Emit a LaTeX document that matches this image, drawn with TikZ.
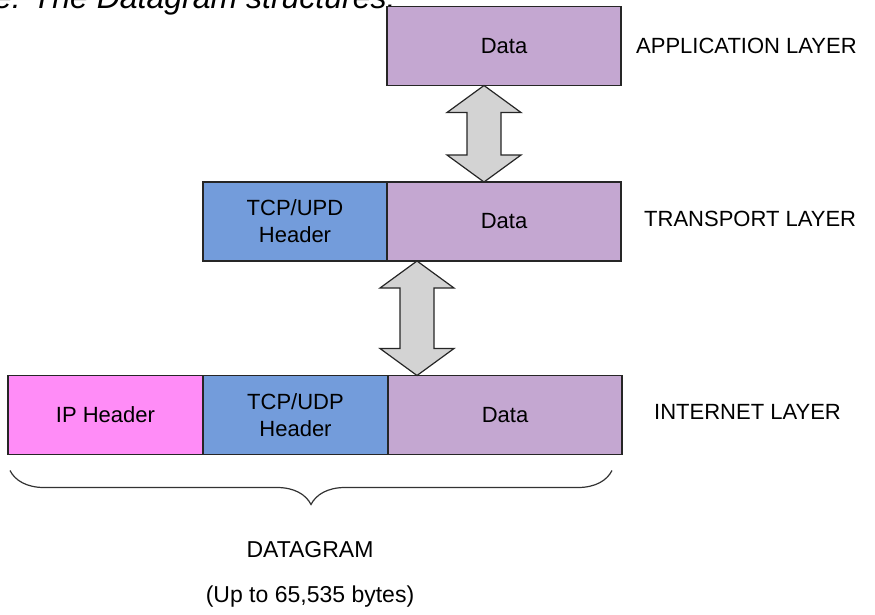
\documentclass[tikz,border=0pt]{standalone}
\usepackage{fontspec}
\setmainfont{Liberation Sans}
\usetikzlibrary{positioning,calc,decorations.pathreplacing}

\definecolor{datapurple}{HTML}{C4A7D1}
\definecolor{headblue}{HTML}{739CDB}
\definecolor{ippink}{HTML}{FF8CF7}
\definecolor{arrowgray}{HTML}{D3D3D3}

\tikzset{
  cell/.style={draw=black!85, line width=1.3pt, inner sep=0pt, outer sep=0pt,
               minimum height=79pt, align=center,
               font=\fontsize{22}{27}\selectfont},
  layername/.style={anchor=west, inner sep=0pt, font=\fontsize{22}{27}\selectfont},
  bigarrow/.style={draw=black!85, fill=arrowgray, line width=1.2pt, line join=miter}
}

% two headed block arrow between two points on one vertical line
\newcommand{\updown}[2]{%
  \draw[bigarrow] let \p1=(#1), \p2=(#2) in
    (\x1,\y1) -- (\x1+37pt,\y1-27pt) -- (\x1+17pt,\y1-27pt) --
    (\x1+17pt,\y2+27pt) -- (\x1+37pt,\y2+27pt) -- (\x1,\y2) --
    (\x1-37pt,\y2+27pt) -- (\x1-17pt,\y2+27pt) --
    (\x1-17pt,\y1-27pt) -- (\x1-37pt,\y1-27pt) -- cycle;}

\begin{document}
\begin{tikzpicture}[x=1pt,y=-1pt]
  \useasboundingbox (0,0) rectangle (875,614);

  % Caption (cut off at the top)
  \node[anchor=base west, inner sep=0pt, font=\fontsize{32}{40}\selectfont\itshape]
    (cap) at (-6,8) {e: The Datagram structures.};

  % Application layer
  \node[cell, fill=datapurple, minimum width=234pt] (appdata) at (504,46) {Data};

  % Transport layer
  \node[cell, fill=headblue, minimum width=184pt] (tphead) at (295,221.5) {TCP/UPD\\Header};
  \node[cell, fill=datapurple, minimum width=234pt, right=0pt of tphead] (tpdata) {Data};

  % Internet layer
  \node[cell, fill=ippink, minimum width=195pt] (iphead) at (105.5,415) {IP Header};
  \node[cell, fill=headblue, minimum width=185pt, right=0pt of iphead] (ithead) {TCP/UDP\\Header};
  \node[cell, fill=datapurple, minimum width=234pt, right=0pt of ithead] (itdata) {Data};

  % Layer names
  \node[layername] (appname) at (636,46) {APPLICATION LAYER};
  \node[layername] (tpname) at (644,219) {TRANSPORT LAYER};
  \node[layername] (itname) at (654,412) {INTERNET LAYER};

  % Arrows between the layers
  \path (appdata.south west) ++(97,0) coordinate (a1top);
  \coordinate (a1bot) at (a1top |- tpdata.north);
  \updown{a1top}{a1bot}
  \path (tpdata.south west) ++(30,0) coordinate (a2top);
  \coordinate (a2bot) at (a2top |- itdata.north);
  \updown{a2top}{a2bot}

  % Brace under the datagram
  \coordinate (brl) at ($(iphead.south west)+(2,16)$);
  \coordinate (brr) at ($(itdata.south east)+(-10,16)$);
  \draw[black!80, line width=1.2pt, decorate,
        decoration={brace, mirror, amplitude=34pt}] (brl) -- (brr);

  \node[font=\fontsize{23}{27}\selectfont] (dgname) at (310,550) {DATAGRAM};
  \node[font=\fontsize{23}{27}\selectfont] (dgsize) at (310,597) {(Up to 65,535 bytes)};
\end{tikzpicture}
\end{document}
